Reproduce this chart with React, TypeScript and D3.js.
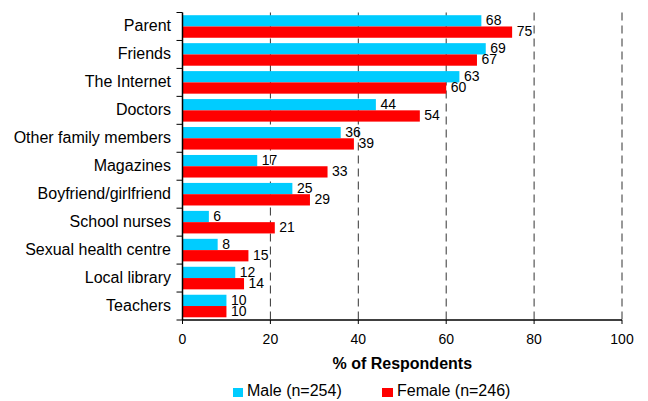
import React from "react";
import * as d3 from "d3";

const categories = [
  "Parent",
  "Friends",
  "The Internet",
  "Doctors",
  "Other family members",
  "Magazines",
  "Boyfriend/girlfriend",
  "School nurses",
  "Sexual health centre",
  "Local library",
  "Teachers",
];
const maleValues = [68, 69, 63, 44, 36, 17, 25, 6, 8, 12, 10];
const femaleValues = [75, 67, 60, 54, 39, 33, 29, 21, 15, 14, 10];
const xTicks = [0, 20, 40, 60, 80, 100];
const seriesNames = ["Male (n=254)", "Female (n=246)"];
const axisTitle = "% of Respondents";

const W = 648;
const H = 401;
const CYAN = "#00CCFF";
const RED = "#FF0000";
const FONT = "'Liberation Sans', Arial, Helvetica, sans-serif";

export default function App() {
  const x = d3.scaleLinear().domain([0, 100]).range([182.5, 622]);
  const y = d3.scaleBand<string>().domain(categories).range([12.5, 320]).padding(0);
  const bw = y.bandwidth();
  const pad = 2.7;
  const barH = (bw - 2 * pad) / 2;
  const x0 = x(0);
  const top = y.range()[0];
  const bottom = y.range()[1];

  const boundaries = d3.range(categories.length + 1).map((i) => top + i * bw);

  return (
    <svg
      width={W}
      height={H}
      viewBox={`0 0 ${W} ${H}`}
      style={{ position: "absolute", left: 0, top: 0, background: "#fff" }}
      fontFamily={FONT}
    >
      <rect x={0} y={0} width={W} height={H} fill="#fff" />
      {/* gridlines */}
      {xTicks
        .filter((t) => t > 0)
        .map((t) => (
          <line
            key={`g${t}`}
            x1={x(t)}
            x2={x(t)}
            y1={top}
            y2={bottom}
            stroke="#333"
            strokeWidth={1}
            strokeDasharray="8,5"
          />
        ))}
      {/* bars */}
      {categories.map((c, i) => {
        const b = y(c)!;
        return (
          <g key={c}>
            <rect x={x0} y={b + pad} width={x(maleValues[i]) - x0} height={barH} fill={CYAN} />
            <rect x={x0} y={b + pad + barH} width={x(femaleValues[i]) - x0} height={barH} fill={RED} />
            <text x={x(maleValues[i]) + 4.5} y={b + pad + barH - 1} fontSize={14} fill="#000">
              {maleValues[i]}
            </text>
            <text x={x(femaleValues[i]) + 4.5} y={b + pad + 2 * barH - 1.5} fontSize={14} fill="#000">
              {femaleValues[i]}
            </text>
            <text x={171} y={b + bw / 2 + 5} fontSize={16} textAnchor="end" fill="#000">
              {c}
            </text>
          </g>
        );
      })}
      {/* y axis */}
      <line x1={x0} x2={x0} y1={top} y2={bottom} stroke="#000" strokeWidth={1.5} />
      {boundaries.map((b, i) => (
        <line key={`yt${i}`} x1={x0 - 6} x2={x0} y1={b} y2={b} stroke="#000" strokeWidth={1} />
      ))}
      {/* x axis */}
      <line x1={x0} x2={x(100)} y1={bottom} y2={bottom} stroke="#000" strokeWidth={1.5} />
      {xTicks.map((t) => (
        <g key={`xt${t}`}>
          <line x1={x(t)} x2={x(t)} y1={bottom} y2={bottom + 4} stroke="#000" strokeWidth={1} />
          <text x={x(t)} y={344} fontSize={14} textAnchor="middle" fill="#000">
            {t}
          </text>
        </g>
      ))}
      <text x={(x(0) + x(100)) / 2} y={369} fontSize={16} fontWeight="bold" textAnchor="middle" fill="#000">
        {axisTitle}
      </text>
      {/* legend */}
      <rect x={233} y={388} width={10} height={9} fill={CYAN} />
      <text x={247} y={396} fontSize={16} fill="#000">
        {seriesNames[0]}
      </text>
      <rect x={382} y={388} width={11} height={9} fill={RED} />
      <text x={397} y={396} fontSize={16} fill="#000">
        {seriesNames[1]}
      </text>
    </svg>
  );
}
